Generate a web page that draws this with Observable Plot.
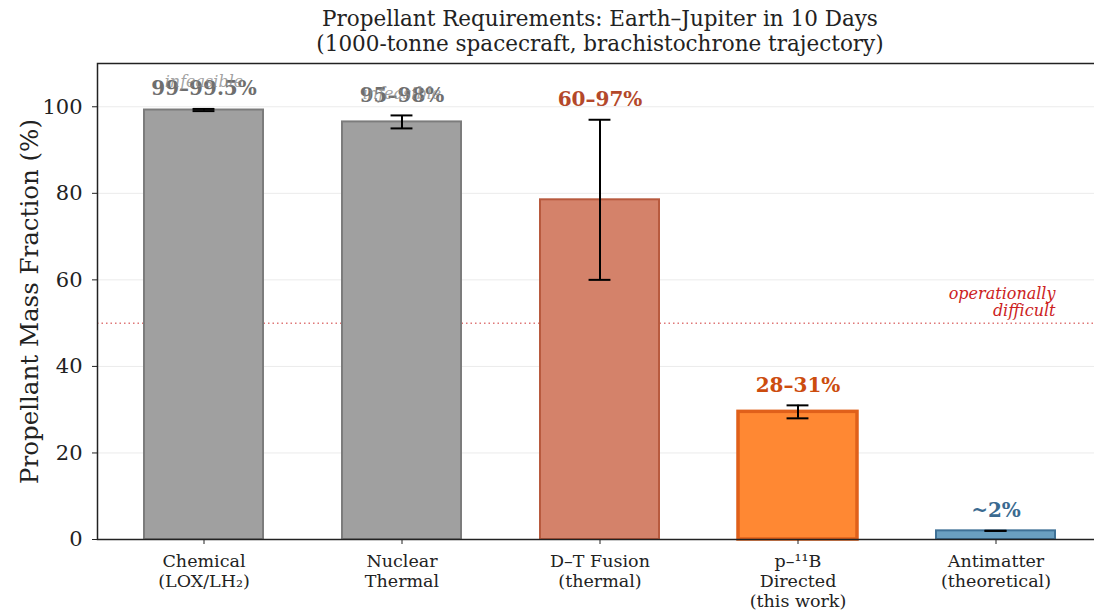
<!DOCTYPE html>
<html>
<head>
<meta charset="utf-8">
<script src="https://cdn.jsdelivr.net/npm/d3@7"></script>
<script src="https://cdn.jsdelivr.net/npm/@observablehq/plot@0.6"></script>
<style>
  html, body { margin: 0; padding: 0; overflow: hidden; background: #fff; width: 1094px; height: 613px; }
  #chart { width: 1094px; height: 613px; overflow: hidden; }
  svg { font-family: "DejaVu Serif", serif; }
</style>
</head>
<body>
<div id="chart"></div>
<script>
const categories = ["Chemical\n(LOX/LH₂)", "Nuclear\nThermal", "D–T Fusion\n(thermal)", "p–¹¹B\nDirected\n(this work)", "Antimatter\n(theoretical)"];
const values = [99.25, 96.5, 78.5, 29.5, 2];
const errLow = [99, 95, 60, 28, 2];
const errHigh = [99.5, 98, 97, 31, 2];
const barLabels = ["99–99.5%", "95–98%", "60–97%", "28–31%", "~2%"];
const fills = ["#a0a0a0", "#a0a0a0", "#d4826a", "#ff8833", "#6a9fc0"];
const strokes = ["#7c7c7c", "#7c7c7c", "#b85a3e", "#e0601a", "#3f7196"];
const strokeWidths = [2, 2, 2, 3.5, 2];
const labelColors = ["#6e6e6e", "#6e6e6e", "#b4482a", "#cc4c0e", "#3a6a90"];
const infeasible = [true, true, false, false, false];
const yTicks = [0, 20, 40, 60, 80, 100];
const threshold = 50;

const data = categories.map((c, i) => ({
  cat: c, value: values[i], lo: errLow[i], hi: errHigh[i], label: barLabels[i],
  fill: fills[i], stroke: strokes[i], sw: strokeWidths[i], lc: labelColors[i], inf: infeasible[i]
}));

const W = 1110, H = 613;
const mL = 97, mR = W - 1102, mT = 63, mB = H - 539;
const bandInset = (198.5 * 0.6 - 22) / 2;

const chart = Plot.plot({
  width: W, height: H,
  marginLeft: mL, marginRight: mR, marginTop: mT, marginBottom: mB,
  style: { fontFamily: "DejaVu Serif, serif", background: "#fff", color: "#222", maxWidth: "none" },
  x: { domain: categories, paddingInner: 0.4, paddingOuter: 0.23, label: null },
  y: { domain: [0, 110], label: null },
  marks: [
    Plot.ruleY(yTicks, { stroke: "#ebebeb", strokeWidth: 1 }),
    Plot.ruleY([threshold], { stroke: "#d44a4a", strokeWidth: 1.5, strokeDasharray: "1.5,3", strokeOpacity: 0.75 }),
    Plot.text(["operationally\ndifficult"], {
      x: () => categories[4], y: () => threshold, dx: 59.5, dy: -7,
      textAnchor: "end", lineAnchor: "bottom", fontStyle: "italic", fontSize: 16,
      fill: "#cc2222", lineHeight: 1.08
    }),
    Plot.barY(data, { x: "cat", y: "value", fill: d => d.fill, stroke: d => d.stroke, strokeWidth: d => d.sw }),
    Plot.ruleX(data, { x: "cat", y1: "lo", y2: "hi", stroke: "#000", strokeWidth: 2 }),
    Plot.tickY(data, { x: "cat", y: "lo", stroke: "#000", strokeWidth: 2, insetLeft: bandInset, insetRight: bandInset }),
    Plot.tickY(data, { x: "cat", y: "hi", stroke: "#000", strokeWidth: 2, insetLeft: bandInset, insetRight: bandInset }),
    Plot.text(data, {
      x: "cat", y: "hi", text: "label", dy: -20, lineAnchor: "middle",
      fill: d => d.lc, fontWeight: "bold", fontSize: 20
    }),
    Plot.text(data.filter(d => d.inf), {
      x: "cat", y: "value", text: () => "infeasible", dy: -28, lineAnchor: "middle",
      fill: "#8a8a8a", fillOpacity: 0.8, fontStyle: "italic", fontSize: 16
    }),
    Plot.frame({ stroke: "#222", strokeWidth: 1.5 }),
    Plot.axisY({ ticks: yTicks, tickSize: 5, tickPadding: 10, fontSize: 21, stroke: "#222",
      label: "Propellant Mass Fraction (%)", labelAnchor: "center", labelOffset: 77, labelArrow: "none" }),
    Plot.axisX({ tickSize: 5, tickPadding: 8, fontSize: 17.5, label: null, lineHeight: 1.15, stroke: "#222" }),
    Plot.text(["Propellant Requirements: Earth–Jupiter in 10 Days"], {
      frameAnchor: "top", dy: -44, fontSize: 21.5, fill: "#222", lineAnchor: "middle"
    }),
    Plot.text(["(1000-tonne spacecraft, brachistochrone trajectory)"], {
      frameAnchor: "top", dy: -19, fontSize: 21.5, fill: "#222", lineAnchor: "middle"
    })
  ]
});
const svg = d3.select(chart);
svg.selectAll('g[aria-label="y-axis tick label"]').attr("font-size", 21).selectAll("text").attr("font-size", 21);
svg.selectAll('g[aria-label="x-axis tick label"]').attr("font-size", 17.5);
svg.selectAll('g[aria-label="y-axis label"]').attr("font-size", 24.5).selectAll("text").attr("font-size", 24.5);
document.getElementById("chart").appendChild(chart);
</script>
</body>
</html>
